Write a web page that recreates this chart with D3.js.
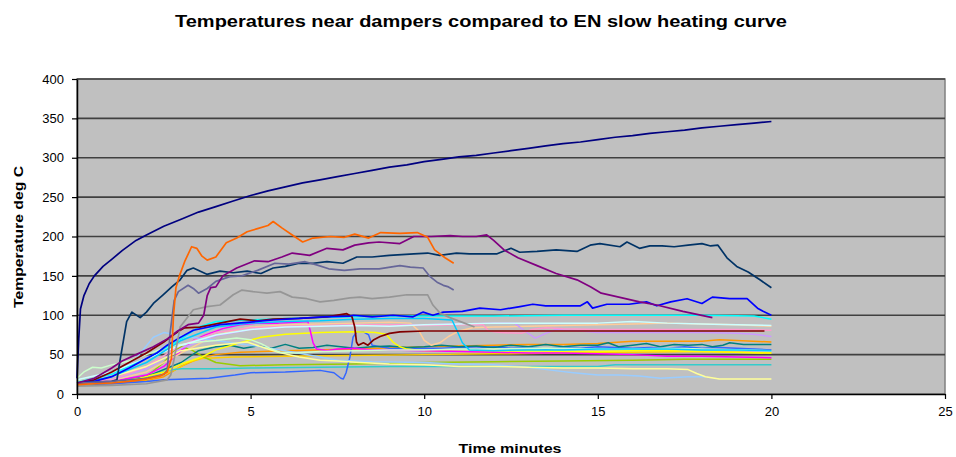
<!DOCTYPE html>
<html>
<head>
<meta charset="utf-8">
<script src="https://cdn.jsdelivr.net/npm/d3@7"></script>
<style>
    body { margin: 0; background: #fff; }
    text { font-family: Arial, "Liberation Sans", sans-serif; }
</style>
</head>
<body>
<div id="chart"></div>
<script>
// *** Data: [minutes, deg C]
var enCurve = [[0,20],[0.05,70],[0.1,108],[0.2,125],[0.35,140],[0.5,150],[0.75,162],[1,171],[1.3,182],[1.7,195],[2,202],[2.5,213],[3,222],[3.5,231],[4,238],[4.5,245],[5,252],[5.5,258],[6,263],[6.5,268],[7,272],[7.5,276],[8,280],[8.5,284],[9,288],[9.5,291],[10,295],[10.5,298],[11,301],[11.5,303],[12,306],[12.5,309],[13,312],[13.5,315],[14,318],[14.5,320],[15,323],[15.5,326],[16,328],[16.5,331],[17,333],[17.5,335],[18,338],[18.5,340],[19,342],[19.5,344],[20,346]];
var orange = [[0,12],[0.5,13],[1,14],[1.5,16],[2,19],[2.4,23],[2.6,28],[2.72,45],[2.78,100],[2.85,135],[2.95,150],[3.1,168],[3.3,187],[3.45,185],[3.6,175],[3.75,170],[4,174],[4.3,192],[4.6,198],[4.9,206],[5.2,210],[5.5,214],[5.65,219],[5.9,211],[6.2,202],[6.5,193],[6.8,198],[7.3,200],[7.7,199],[8,203],[8.4,198],[8.75,205],[9.3,204],[9.8,205],[10.1,199],[10.3,183],[10.6,173],[10.85,166]];
var purple = [[0,14],[0.5,20],[1,33],[1.3,42],[1.7,50],[2.2,60],[2.6,70],[2.9,80],[3.2,88],[3.5,90],[3.65,100],[3.75,125],[3.85,135],[4,136],[4.2,150],[4.6,160],[5.1,169],[5.5,168],[5.9,174],[6.2,179],[6.7,176],[7.2,185],[7.66,183],[8,189],[8.4,192],[8.7,193],[9.3,191],[9.7,200],[10.2,200],[10.75,201],[11.1,200],[11.5,200],[11.8,202],[12,195],[12.3,183],[12.7,173],[13.25,163],[13.8,153],[14.4,145],[14.8,136],[15.1,128],[15.7,122],[16.2,117],[16.7,113],[17.45,105],[18.3,97]];
var blueGray = [[0,14],[1,16],[2,20],[2.5,25],[2.6,30],[2.68,77],[2.8,119],[2.92,130],[3.2,138],[3.35,134],[3.5,128],[3.75,134],[4,143],[4.4,149],[4.75,150],[5.2,157],[5.7,166],[6.1,165],[6.57,168],[6.9,164],[7.25,159],[7.7,157],[8.15,159],[8.7,159],[9.3,163],[9.6,161],[9.97,160],[10.17,149],[10.37,142],[10.55,138],[10.7,136],[10.85,132]];
var gray = [[0,10],[1,11],[2,13],[2.6,18],[2.7,24],[2.8,45],[2.97,85],[3.35,107],[3.75,111],[4.12,113],[4.5,126],[4.75,132],[5.07,130],[5.47,128],[5.85,130],[6.2,123],[6.62,121],[7,117],[7.4,119],[7.86,122],[8.15,123],[8.5,121],[9,123],[9.5,126],[10.1,126],[10.25,113],[10.45,103],[10.74,97],[11.1,91],[11.45,85]];
var darkTeal = [[0,14],[0.5,15],[1,16],[1.15,18],[1.24,43],[1.43,92],[1.58,104],[1.82,97],[2,104],[2.2,115],[2.48,126],[2.73,136],[2.97,145],[3.17,157],[3.35,160],[3.74,152],[4.12,156],[4.5,154],[4.9,156],[5.3,153],[5.65,160],[6,162],[6.4,166],[6.8,166],[7.2,168],[7.66,166],[8.06,174],[8.5,174],[9,176],[9.7,178],[10.1,179],[10.45,176],[10.93,179],[11.3,178],[12.1,178],[12.5,185],[12.75,180],[13.25,181],[13.8,183],[14.4,181],[14.78,189],[15.06,191],[15.64,187],[15.84,193],[16.2,185],[16.5,188],[16.85,188],[17.2,187],[17.6,189],[18,191],[18.25,188],[18.46,189],[18.72,173],[19,162],[19.33,155],[19.67,145],[20,135]];
var blue = [[0,14],[0.5,16],[1,22],[1.5,33],[2,45],[2.3,52],[2.6,62],[2.9,70],[3.35,81],[4.12,88],[4.9,91],[5.65,94],[6.4,96],[7.1,98],[7.86,99],[7.96,100],[8.5,98],[9.1,100],[9.68,98],[9.97,104],[10.25,100],[10.55,104],[11.1,105],[11.6,109],[12.2,107],[12.76,111],[13.13,114],[13.5,112],[14.1,112],[14.5,112],[14.7,117],[14.85,109],[15.26,114],[15.9,114],[16.4,117],[16.7,112],[17.1,117],[17.57,121],[18,115],[18.3,123],[18.8,121],[19.3,121],[19.6,109],[19.76,105],[20,100]];
var maroon = [[0,14],[0.5,18],[1,28],[1.5,40],[2,52],[2.5,66],[2.9,79],[3.1,84],[3.54,85],[4.12,90],[4.7,95],[5.2,93],[5.65,95],[6.4,96],[7.2,98],[7.77,102],[7.92,98],[8,85],[8.05,66],[8.1,62],[8.25,65],[8.38,62],[8.55,69],[8.73,73],[9,77],[9.3,79],[10,80],[12,80],[14,80],[16,80],[18,80],[19.8,80]];
var cyan = [[0,15],[1,25],[2,45],[3,70],[3.5,85],[4,92],[5,94],[6,96],[7,97],[8,98],[9,99],[10,99],[12,99],[14,100],[16,100],[18,100],[19.5,99],[20,95]];
var sky = [[0,14],[1,22],[2,40],[3,68],[4,85],[5,90],[6,92],[7,93],[8,95],[9,96],[10,96],[10.8,94],[10.95,80],[11.1,65],[11.3,56],[12,55],[13,56],[14,56],[15,57],[16,57],[17,57],[18,56],[19,56],[20,55]];
var paleCyan = [[0,18],[1,28],[2,45],[3,62],[4,75],[5,82],[6,85],[7,86],[8,87],[9,86],[10,88],[11,89],[12,90],[13,90],[14,90],[15,90],[16,92],[17,90],[18,89],[19,88],[20,87]];
var paleGreen = [[0,20],[0.2,28],[0.45,34],[0.7,33],[1,37],[1.5,42],[2,50],[2.5,58],[3,63],[3.5,66],[4,68],[4.6,71],[5,69],[5.3,64],[5.56,58],[5.85,53],[6.3,52],[7,54],[8,55],[9,56],[10,56],[11,57],[12,57],[13,58],[14,58],[15,57],[16,57],[17,58],[18,57],[19,56],[20,55]];
var paleYellow = [[0,16],[1,22],[2,35],[3,55],[4,62],[4.9,66],[5.3,60],[5.8,53],[6.4,47],[7,43],[7.5,42],[8.15,40],[9,38],[10,37],[11,35],[12,35],[13,34],[14,33],[15,33],[16,32],[17,32],[17.6,31],[17.85,26],[18.1,22],[18.5,19],[20,19]];
var paleBlue = [[0,14],[1,25],[1.7,45],[2.2,72],[2.5,78],[3,74],[4,68],[5,62],[6,55],[7,47],[7.5,43],[8.5,41],[10,40],[11,38],[12,37],[13,34],[13.7,30],[14.3,27],[15,24],[15.6,24],[16.2,23],[16.8,20],[17.2,21],[17.6,22],[18.1,22]];
var rose = [[0,14],[1,18],[2,35],[3,62],[4,78],[5,84],[6,86],[7,87],[8,88],[9,88],[10,87],[11,88],[11.7,88],[11.85,80],[12.2,78],[12.8,77],[13.1,82],[13.5,84],[14,83],[15,82],[16,82],[17,82],[18,82],[19,82],[20,81]];
var lavender = [[0,14],[1,18],[2,32],[3,58],[4,74],[5,82],[6,85],[7,86],[8,87],[9,88],[10,88],[11,89],[12,90],[12.6,90],[12.9,80],[13.2,71],[13.5,77],[13.8,82],[14.5,80],[15,78],[16,78],[17,78],[18,78],[19,77],[19.5,76],[20,73]];
var tan = [[0,13],[1,17],[2,28],[3,52],[4,75],[5,85],[6,88],[7,89],[8,90],[9,91],[9.6,90],[9.85,80],[10,68],[10.2,62],[10.45,65],[10.7,73],[11,80],[11.4,84],[12,85],[13,86],[14,87],[15,88],[16,89],[17,90],[18,89],[19,88],[20,86]];
var magenta = [[0,13],[1,16],[2,24],[2.5,35],[3,55],[3.35,68],[3.7,75],[4.2,83],[4.7,88],[5.2,90],[5.8,90],[6.3,91],[6.65,92],[6.72,80],[6.8,65],[6.9,57],[7.2,55],[7.5,57],[8,58],[8.5,56],[9,56],[10,55],[11,54],[12,53],[13,52],[14,52],[15,51],[16,50],[17,48],[18,48],[19,47],[20,46]];
var yellow = [[0,12],[1,15],[1.8,20],[2.5,28],[3,38],[3.6,47],[4,56],[4.7,65],[5.3,72],[6,76],[7,78],[8,79],[8.6,78],[8.9,76],[9.1,66],[9.3,60],[9.5,57],[10,55],[11,54],[12,54],[13,55],[14,54],[15,54],[16,55],[17,55],[18,54],[19,53],[20,52]];
var teal = [[0,13],[1,15],[2,22],[3,40],[3.5,55],[4,60],[4.4,62],[4.8,58],[5.2,61],[5.6,58],[6,63],[6.4,58],[6.8,59],[7.2,62],[7.6,60],[8,58],[8.5,60],[9,61],[9.5,59],[10,60],[10.5,62],[11,60],[11.5,61],[12,59],[12.5,62],[13,60],[13.5,63],[14,60],[14.5,62],[15,62],[15.3,65],[15.6,60],[16,62],[16.4,64],[16.8,60],[17.2,63],[17.6,62],[18,63],[18.3,60],[18.6,62],[18.8,65],[19.2,63],[20,63]];
var lightBlue = [[0,12],[1,13],[2,16],[2.5,18],[3.8,20],[4.55,24],[5,27],[6,28],[7,30],[7.4,27],[7.6,20],[7.67,19],[7.75,27],[7.86,47],[7.95,72],[8.06,79],[8.25,79],[8.4,75],[8.5,62],[8.73,60],[9,58],[9.5,57],[10,58],[10.5,58],[11,59],[11.5,58],[12,60],[12.5,58],[13,59],[13.5,57],[14,59],[14.5,58],[15,60],[15.5,59],[16,58],[16.5,59],[17,58],[17.5,60],[18,58],[18.5,59],[19,58],[19.5,57],[20,56]];
var aqua = [[0,12],[1,15],[2,22],[2.6,30],[3,32],[4,32],[5,33],[7,34],[9,35],[11,35],[13,35],[15,35],[15.5,37],[17,37],[20,37]];
var lime = [[0,12],[1,14],[2,22],[2.5,40],[2.8,55],[3,60],[3.3,56],[3.6,48],[4,40],[4.7,36],[6,37],[8,38],[10,40],[12,41],[14,42],[16,43],[17.5,44],[20,44]];
var gold = [[0,14],[1,16],[2,18],[2.8,30],[3.2,40],[3.6,45],[4.5,47],[6,48],[8,49],[10,50],[12,51],[14,52],[16,53],[18,54],[20,52]];
var lightOrange = [[0,11],[1,13],[2,17],[2.5,22],[3,35],[3.5,45],[4,50],[4.7,53],[6,55],[8,57],[10,60],[11,61],[12,62],[13,63],[14,63],[15,64],[16,67],[17,67],[18,67],[18.5,69],[19,68],[20,66]];

var seriesData = [enCurve, orange, purple, blueGray, gray, darkTeal, blue, maroon, cyan, sky, paleCyan, paleGreen, paleYellow, paleBlue, rose, lavender, tan, magenta, yellow, teal, lightBlue, aqua, lime, gold, lightOrange];
var seriesColors = ["#000080", "#FF6600", "#800080", "#666699", "#969696", "#003366", "#0000FF", "#800000", "#00FFFF", "#00CCFF", "#CCFFFF", "#CCFFCC", "#FFFF99", "#99CCFF", "#FF99CC", "#CC99FF", "#FFCC99", "#FF00FF", "#FFFF00", "#008080", "#3366FF", "#33CCCC", "#99CC00", "#FFCC00", "#FF9900"];

var xTicks = [0, 5, 10, 15, 20, 25];
var yTicks = [0, 50, 100, 150, 200, 250, 300, 350, 400];

// *** Set up svg
var margin = {top: 79, right: 11, bottom: 63, left: 77},
    width = 956 - margin.left - margin.right,
    height = 457 - margin.top - margin.bottom;

var x = d3.scaleLinear().domain([0, 25]).range([0, width]);
var y = d3.scaleLinear().domain([0, 400]).range([height, 0]);

var svg_root = d3.select("#chart").append("svg")
    .attr("width", 956)
    .attr("height", 457);

var svg = svg_root.append("g")
    .attr("transform", "translate(" + margin.left + "," + margin.top + ")");

// plot area
svg.append("rect")
    .attr("width", width)
    .attr("height", height)
    .attr("fill", "#C0C0C0")
    .attr("stroke", "#808080")
    .attr("stroke-width", 1.5);

// gridlines
svg.append("g").selectAll("line")
    .data(yTicks.filter(function(d) { return d > 0; }))
    .enter().append("line")
    .attr("x1", 0)
    .attr("x2", width)
    .attr("y1", function(d) { return y(d); })
    .attr("y2", function(d) { return y(d); })
    .attr("stroke", "#404040")
    .attr("stroke-width", 1.6);

// *** lines
var line = d3.line()
    .x(function(d) { return x(d[0]); })
    .y(function(d) { return y(d[1]); });

var order = d3.range(seriesData.length).reverse();
svg.append("g").selectAll("path")
    .data(order)
    .enter().append("path")
    .attr("d", function(i) { return line(seriesData[i]); })
    .attr("fill", "none")
    .attr("stroke", function(i) { return seriesColors[i]; })
    .attr("stroke-width", function(i) { return i < 8 ? 1.7 : 1.5; })
    .attr("stroke-linejoin", "round");

// x axis
var xAxis = d3.axisBottom(x).tickValues(xTicks).tickSize(5).tickSizeOuter(0).tickPadding(8);
var gx = svg.append("g")
    .attr("transform", "translate(0," + height + ")")
    .call(xAxis);

// y axis
var yAxis = d3.axisLeft(y).tickValues(yTicks).tickSize(5).tickSizeOuter(0).tickPadding(8);
var gy = svg.append("g").call(yAxis);

[gx, gy].forEach(function(g) {
    g.select(".domain").attr("stroke", "#000").attr("stroke-width", 1.5);
    g.selectAll(".tick line").attr("stroke", "#000").attr("stroke-width", 1.2);
    g.selectAll(".tick text")
        .attr("fill", "#000")
        .style("font-size", "13px")
        .style("font-family", "Arial, 'Liberation Sans', sans-serif");
});

// titles
svg_root.append("text")
    .attr("x", 481)
    .attr("y", 27)
    .attr("text-anchor", "middle")
    .attr("textLength", 612)
    .attr("lengthAdjust", "spacingAndGlyphs")
    .style("font-size", "16px")
    .style("font-weight", "bold")
    .text("Temperatures near dampers compared to EN slow heating curve");

svg_root.append("text")
    .attr("x", 510)
    .attr("y", 453)
    .attr("text-anchor", "middle")
    .attr("textLength", 103)
    .attr("lengthAdjust", "spacingAndGlyphs")
    .style("font-size", "13px")
    .style("font-weight", "bold")
    .text("Time minutes");

svg_root.append("text")
    .attr("transform", "translate(23,237) rotate(-90)")
    .attr("text-anchor", "middle")
    .attr("textLength", 142)
    .attr("lengthAdjust", "spacingAndGlyphs")
    .style("font-size", "13px")
    .style("font-weight", "bold")
    .text("Temperature deg C");
</script>
</body>
</html>
